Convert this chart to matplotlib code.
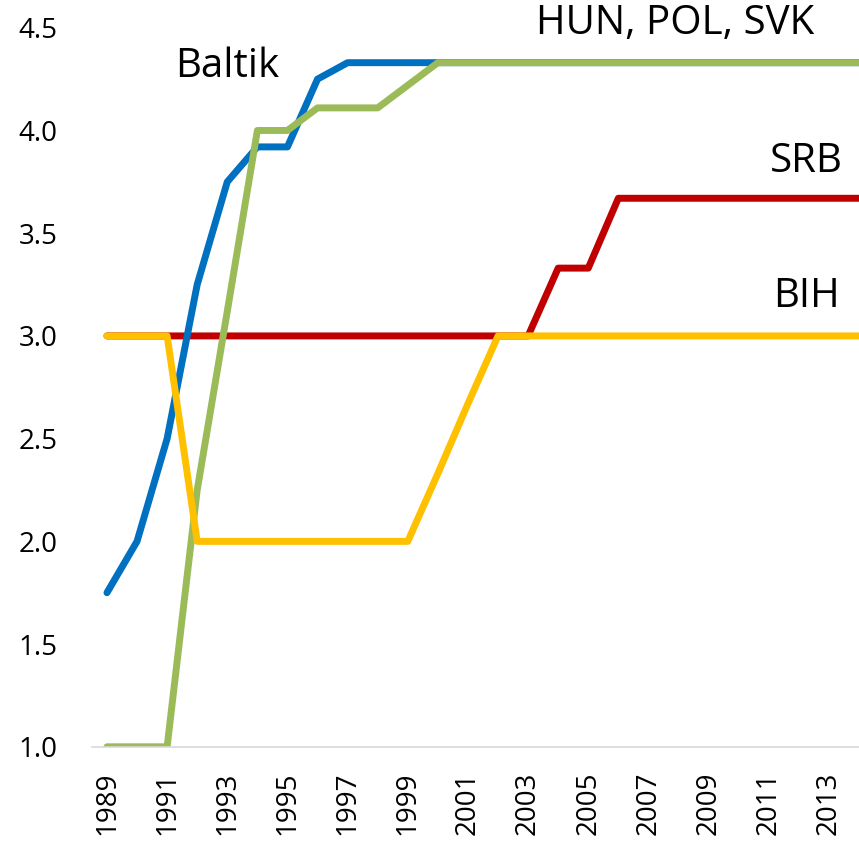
import matplotlib
matplotlib.use("Agg")
import matplotlib.pyplot as plt
import numpy as np

plt.rcParams['font.family'] = ['Open Sans', 'DejaVu Sans']

years = np.arange(1989, 2015)

baltik = [1.75, 2.0, 2.5, 3.25, 3.75, 3.92, 3.92, 4.25, 4.33, 4.33, 4.33, 4.33,
          4.33, 4.33, 4.33, 4.33, 4.33, 4.33, 4.33, 4.33, 4.33, 4.33, 4.33, 4.33,
          4.33, 4.33]
hun_pol_svk = [1.0, 1.0, 1.0, 2.25, 3.12, 4.0, 4.0, 4.11, 4.11, 4.11, 4.22, 4.33,
               4.33, 4.33, 4.33, 4.33, 4.33, 4.33, 4.33, 4.33, 4.33, 4.33, 4.33, 4.33,
               4.33, 4.33]
srb = [3.0, 3.0, 3.0, 3.0, 3.0, 3.0, 3.0, 3.0, 3.0, 3.0, 3.0, 3.0,
       3.0, 3.0, 3.0, 3.33, 3.33, 3.67, 3.67, 3.67, 3.67, 3.67, 3.67, 3.67,
       3.67, 3.67]
bih = [3.0, 3.0, 3.0, 2.0, 2.0, 2.0, 2.0, 2.0, 2.0, 2.0, 2.0, 2.33,
       2.67, 3.0, 3.0, 3.0, 3.0, 3.0, 3.0, 3.0, 3.0, 3.0, 3.0, 3.0,
       3.0, 3.0]

fig = plt.figure(figsize=(8.59, 8.41), dpi=100)
ax = fig.add_axes([0.107, 0.112, 0.893, 0.855])

lw = 5.0
ax.plot(years, srb, color='#C00000', lw=lw, solid_capstyle='round', solid_joinstyle='round')
ax.plot(years, baltik, color='#0070C0', lw=lw, solid_capstyle='round', solid_joinstyle='round')
ax.plot(years, hun_pol_svk, color='#9BBB59', lw=lw, solid_capstyle='round', solid_joinstyle='round')
ax.plot(years, bih, color='#FFC000', lw=lw, solid_capstyle='round', solid_joinstyle='round')

ax.set_xlim(1988.5, 2014.0)
ax.set_ylim(1.0, 4.5)
ax.set_yticks(np.arange(1.0, 4.51, 0.5))
ax.set_yticklabels(['%.1f' % v for v in np.arange(1.0, 4.51, 0.5)])
ax.set_xticks(years[::2])
ax.set_xticklabels([str(y) for y in years[::2]], rotation=90, va='top')

ax.tick_params(axis='y', length=0, pad=25, labelsize=20)
ax.tick_params(axis='x', length=0, pad=18, labelsize=20)

for s in ['top', 'right', 'left']:
    ax.spines[s].set_visible(False)
ax.spines['bottom'].set_color('#D9D9D9')
ax.spines['bottom'].set_linewidth(1.2)

# series labels
lbl = dict(fontsize=29, ha='center', va='center', clip_on=False)
ax.text(1993.0, 4.31, 'Baltik', **lbl)
ax.text(2007.9, 4.52, 'HUN, POL, SVK', **lbl)
ax.text(2012.25, 3.85, 'SRB', **lbl)
ax.text(2012.25, 3.19, 'BIH', **lbl)

fig.savefig('out.png', dpi=100)
